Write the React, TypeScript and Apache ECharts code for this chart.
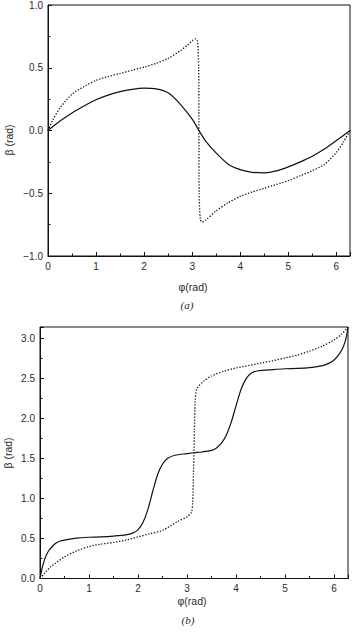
import React, { useEffect, useRef } from "react";
import * as echarts from "echarts";

// Panel (a): beta vs phi
const phiSolidA = [0, 0.25, 0.5, 0.75, 1.0, 1.25, 1.5, 1.75, 2.0, 2.25, 2.5, 2.75, 3.0, 3.14, 3.28, 3.5, 3.75, 4.0, 4.25, 4.5, 4.75, 5.0, 5.25, 5.5, 5.75, 6.0, 6.283];
const betaSolidA = [0, 0.075, 0.14, 0.195, 0.245, 0.282, 0.31, 0.328, 0.337, 0.332, 0.3, 0.21, 0.09, 0, -0.085, -0.18, -0.268, -0.312, -0.333, -0.337, -0.322, -0.29, -0.25, -0.205, -0.148, -0.08, 0];

const phiDotA = [0, 0.1, 0.25, 0.5, 0.75, 1.0, 1.25, 1.5, 1.75, 2.0, 2.25, 2.5, 2.75, 2.9, 3.0, 3.07, 3.11, 3.135, 3.14, 3.145, 3.17, 3.21, 3.28, 3.5, 3.75, 4.0, 4.25, 4.5, 4.75, 5.0, 5.25, 5.5, 5.75, 6.0, 6.15, 6.283];
const betaDotA = [0, 0.085, 0.18, 0.29, 0.35, 0.4, 0.43, 0.455, 0.48, 0.505, 0.535, 0.575, 0.635, 0.68, 0.715, 0.73, 0.71, 0.5, 0, -0.5, -0.71, -0.73, -0.715, -0.64, -0.575, -0.525, -0.49, -0.46, -0.43, -0.4, -0.36, -0.32, -0.27, -0.175, -0.09, 0];

// Panel (b): beta vs phi
const phiSolidB = [0, 0.04, 0.08, 0.12, 0.18, 0.25, 0.32, 0.4, 0.5, 0.75, 1.0, 1.25, 1.5, 1.75, 1.9, 2.0, 2.1, 2.2, 2.3, 2.4, 2.5, 2.6, 2.75, 3.0, 3.14, 3.3, 3.5, 3.6, 3.7, 3.8, 3.9, 4.0, 4.1, 4.2, 4.3, 4.45, 4.75, 5.0, 5.25, 5.5, 5.75, 5.9, 6.0, 6.1, 6.17, 6.22, 6.25, 6.283];
const betaSolidB = [0, 0.12, 0.21, 0.28, 0.35, 0.4, 0.44, 0.465, 0.48, 0.505, 0.515, 0.52, 0.53, 0.545, 0.57, 0.61, 0.7, 0.86, 1.09, 1.3, 1.43, 1.5, 1.54, 1.56, 1.571, 1.58, 1.6, 1.63, 1.69, 1.79, 1.95, 2.16, 2.36, 2.49, 2.56, 2.595, 2.61, 2.62, 2.625, 2.635, 2.655, 2.69, 2.73, 2.8, 2.87, 2.95, 3.02, 3.1416];

const phiDotB = [0, 0.1, 0.22, 0.5, 0.75, 1.0, 1.25, 1.5, 1.75, 2.0, 2.25, 2.5, 2.8, 3.0, 3.09, 3.115, 3.13, 3.14, 3.15, 3.165, 3.2, 3.35, 3.5, 3.75, 4.0, 4.25, 4.5, 4.75, 5.0, 5.25, 5.5, 5.75, 6.0, 6.15, 6.283];
const betaDotB = [0, 0.07, 0.146, 0.27, 0.345, 0.4, 0.43, 0.45, 0.48, 0.52, 0.56, 0.6, 0.71, 0.77, 0.83, 0.95, 1.3, 1.57, 1.85, 2.2, 2.37, 2.47, 2.53, 2.59, 2.63, 2.66, 2.69, 2.72, 2.755, 2.79, 2.84, 2.9, 2.98, 3.05, 3.1416];

const yTicksA = [-1, -0.5, 0, 0.5, 1];
const yTicksB = [0, 0.5, 1, 1.5, 2, 2.5, 3];
const xTicks = [0, 1, 2, 3, 4, 5, 6];

const pairs = (xs: number[], ys: number[]) => xs.map((x, i) => [x, ys[i]]);

export default function App() {
  const ref = useRef<HTMLDivElement>(null);
  useEffect(() => {
    const chart = echarts.init(ref.current!, null, { renderer: "svg" });
    const TWO_PI = 2 * Math.PI;
    const fontFamily = "Liberation Sans";
    const ink = "#111";
    const txt = "#2a2a2a";
    const near = (list: number[], v: number) => list.some((t) => Math.abs(t - v) < 1e-6);
    const fmtY = (list: number[]) => (v: number) =>
      near(list, v) ? v.toFixed(1).replace("-", "\u2212") : "";

    const xAxis = (gridIndex: number) => ({
      type: "value",
      gridIndex,
      min: 0,
      max: TWO_PI,
      interval: 1,
      axisLine: { show: true, onZero: false, lineStyle: { color: ink, width: 1 } },
      axisTick: { show: true, inside: true, length: 4, lineStyle: { color: ink, width: 1 } },
      minorTick: { show: true, splitNumber: 2, length: 2.5, lineStyle: { color: ink, width: 1 } },
      splitLine: { show: false },
      axisLabel: {
        fontFamily,
        fontSize: 10,
        color: txt,
        margin: 5,
        showMaxLabel: false,
        formatter: (v: number) => (near(xTicks, v) ? String(Math.round(v)) : ""),
      },
    });
    const yAxis = (gridIndex: number, min: number, max: number, ticks: number[]) => ({
      type: "value",
      gridIndex,
      min,
      max,
      interval: 0.5,
      axisLine: { show: true, onZero: false, lineStyle: { color: ink, width: 1 } },
      axisTick: { show: true, inside: true, length: 4, lineStyle: { color: ink, width: 1 } },
      minorTick: { show: true, splitNumber: 2, length: 2.5, lineStyle: { color: ink, width: 1 } },
      splitLine: { show: false },
      axisLabel: { fontFamily, fontSize: 10, color: txt, margin: 5, formatter: fmtY(ticks) },
    });
    const line = (x: number[], y: number[], idx: number, dotted: boolean) => ({
      type: "line",
      xAxisIndex: idx,
      yAxisIndex: idx,
      data: pairs(x, y),
      showSymbol: false,
      symbol: "none",
      smooth: 0.25,
      lineStyle: { color: ink, width: dotted ? 1.3 : 1.2, type: dotted ? [1.3, 1.7] : "solid" },
    });
    const label = (text: string, x: number, y: number, rot = 0, font = `10.5px "${fontFamily}"`) => ({
      type: "text",
      x,
      y,
      rotation: rot,
      style: {
        text,
        font,
        fill: txt,
        align: "center",
        verticalAlign: "middle",
        textAlign: "center",
        textVerticalAlign: "middle",
      },
    });

    chart.setOption({
      animation: false,
      backgroundColor: "#fff",
      grid: [
        { left: 48, top: 5, width: 302, height: 251, show: true, borderColor: ink, borderWidth: 1, backgroundColor: "transparent" },
        { left: 40, top: 327, width: 308, height: 251.5, show: true, borderColor: ink, borderWidth: 1, backgroundColor: "transparent" },
      ],
      xAxis: [xAxis(0), xAxis(1)],
      yAxis: [yAxis(0, -1, 1, yTicksA), yAxis(1, 0, Math.PI, yTicksB)],
      series: [
        line(phiSolidA, betaSolidA, 0, false),
        line(phiDotA, betaDotA, 0, true),
        line(phiSolidB, betaSolidB, 1, false),
        line(phiDotB, betaDotB, 1, true),
      ],
      graphic: [
        label("\u03b2 (rad)", 9, 140, Math.PI / 2),
        label("\u03c6(rad)", 193, 287),
        label("(a)", 187, 305, 0, `italic 11px "Liberation Serif"`),
        label("\u03b2 (rad)", 8, 453, Math.PI / 2),
        label("\u03c6(rad)", 192, 601),
        label("(b)", 188, 620, 0, `italic 11px "Liberation Serif"`),
      ],
    });
    return () => chart.dispose();
  }, []);
  return (
    <div
      ref={ref}
      style={{ position: "absolute", left: 0, top: 0, width: 355, height: 634, background: "#fff" }}
    />
  );
}
